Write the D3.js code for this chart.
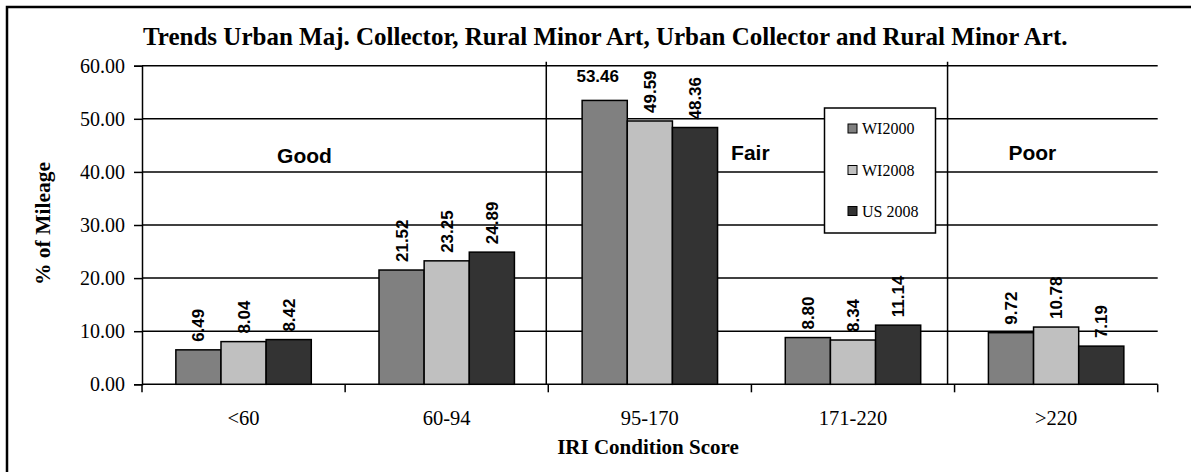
<!DOCTYPE html>
<html><head><meta charset="utf-8">
<script src="https://cdn.jsdelivr.net/npm/d3@7"></script>
<style>body{margin:0;background:#fff}</style>
</head><body><svg id="c" width="1191" height="472"></svg>
<script>
const categories = ["<60", "60-94", "95-170", "171-220", ">220"];
const seriesNames = ["WI2000", "WI2008", "US 2008"];
const wi2000 = [6.49, 21.52, 53.46, 8.80, 9.72];
const wi2008 = [8.04, 23.25, 49.59, 8.34, 10.78];
const us2008 = [8.42, 24.89, 48.36, 11.14, 7.19];
const yTicks = [0, 10, 20, 30, 40, 50, 60];
const zoneLabels = ["Good", "Fair", "Poor"];
const titleText = "Trends Urban Maj. Collector, Rural Minor Art, Urban Collector and Rural Minor Art.";
const xTitle = "IRI Condition Score";
const yTitle = "% of Mileage";

const colors = ["#808080", "#c0c0c0", "#333333"];
const serif = "'Liberation Serif','Times New Roman',serif";
const sans = "'Liberation Sans',Arial,sans-serif";

const svg = d3.select("#c");
const L = 142, R = 1157.7, T = 65.7, B = 384.3;

const x = d3.scaleBand().domain(categories).range([L, R]).padding(0);
const xs = d3.scaleBand().domain(seriesNames).range([0, x.bandwidth()]).paddingInner(0).paddingOuter(0.75);
const y = d3.scaleLinear().domain([0, 60]).range([B, T]);

// outer border
svg.append("rect").attr("x", 7).attr("y", 7).attr("width", 1200).attr("height", 480)
  .attr("fill", "none").attr("stroke", "#000").attr("stroke-width", 2.5);

// gridlines
svg.append("g").selectAll("line").data(yTicks.filter(d => d > 0)).join("line")
  .attr("x1", L).attr("x2", R).attr("y1", d => y(d)).attr("y2", d => y(d))
  .attr("stroke", "#000").attr("stroke-width", 1.5);

// zone separators
const sepX = [x(categories[2]) - 2, x(categories[4]) - 7];
svg.append("g").selectAll("line").data(sepX).join("line")
  .attr("x1", d => d).attr("x2", d => d).attr("y1", T - 4).attr("y2", B)
  .attr("stroke", "#000").attr("stroke-width", 1.5);

// y axis
const yAxis = svg.append("g").attr("transform", `translate(${L},0)`)
  .call(d3.axisLeft(y).tickValues(yTicks).tickFormat(d3.format(".2f")).tickSize(8).tickPadding(9));
yAxis.select(".domain").attr("stroke-width", 1.5);
yAxis.selectAll(".tick line").attr("stroke-width", 1.5);
yAxis.selectAll("text").attr("font-family", serif).attr("font-size", 20).attr("fill", "#000");

// x axis
const boundaries = categories.map(c => x(c)).concat([R]);
const xAxisG = svg.append("g");
xAxisG.append("line").attr("x1", L).attr("x2", R).attr("y1", B).attr("y2", B)
  .attr("stroke", "#000").attr("stroke-width", 1.5);
xAxisG.selectAll("line.t").data(boundaries).join("line").attr("class", "t")
  .attr("x1", d => d).attr("x2", d => d).attr("y1", B).attr("y2", B + 8)
  .attr("stroke", "#000").attr("stroke-width", 1.5);
xAxisG.selectAll("text").data(categories).join("text")
  .attr("x", d => x(d) + x.bandwidth() / 2).attr("y", 425)
  .attr("text-anchor", "middle").attr("font-family", serif).attr("font-size", 20.5)
  .text(d => d);

// bars
const seriesData = [wi2000, wi2008, us2008];
const groups = svg.append("g").selectAll("g").data(seriesData).join("g")
  .attr("fill", (d, i) => colors[i]);
groups.each(function (vals, si) {
  const g = d3.select(this);
  g.selectAll("rect").data(vals).join("rect")
    .attr("x", (v, ci) => x(categories[ci]) + xs(seriesNames[si]))
    .attr("y", v => y(v))
    .attr("width", xs.bandwidth())
    .attr("height", v => B - y(v))
    .attr("stroke", "#000").attr("stroke-width", 1.5);
});

// value labels
const labelG = svg.append("g");
seriesData.forEach((vals, si) => {
  vals.forEach((v, ci) => {
    const cx = x(categories[ci]) + xs(seriesNames[si]) + xs.bandwidth() / 2;
    const top = y(v);
    const txt = v.toFixed(2);
    if (top - 8 - 46 < T) {
      labelG.append("text").attr("x", cx - 7).attr("y", top - 18)
        .attr("text-anchor", "middle").attr("font-family", sans).attr("font-weight", "bold")
        .attr("font-size", 17).text(txt);
    } else {
      labelG.append("text").attr("transform", `translate(${cx + 6},${top - 8}) rotate(-90)`)
        .attr("text-anchor", "start").attr("font-family", sans).attr("font-weight", "bold")
        .attr("font-size", 17).text(txt);
    }
  });
});

// zone labels
const zonePos = [
  [x(categories[0]) + x.bandwidth() * 0.665, 163],
  [x(categories[2]) + x.bandwidth() * 0.9, 160],
  [x(categories[4]) + x.bandwidth() * 0.265, 160]
];
svg.append("g").selectAll("text").data(zoneLabels).join("text")
  .attr("x", (d, i) => zonePos[i][0]).attr("y", (d, i) => zonePos[i][1])
  .attr("font-family", sans).attr("font-weight", "bold").attr("font-size", 21)
  .text(d => d);

// legend
const lg = svg.append("g");
lg.append("rect").attr("x", 824.5).attr("y", 108).attr("width", 111).attr("height", 125)
  .attr("fill", "#fff").attr("stroke", "#000").attr("stroke-width", 1.5);
const legY = [128.5, 170, 211];
seriesNames.forEach((n, i) => {
  lg.append("rect").attr("x", 848).attr("y", legY[i] - 4.5).attr("width", 9).attr("height", 9)
    .attr("fill", colors[i]).attr("stroke", "#000").attr("stroke-width", 1);
  lg.append("text").attr("x", 862).attr("y", legY[i] + 5.5).attr("font-family", serif)
    .attr("font-size", 16).text(n);
});

// titles
svg.append("text").attr("x", 143).attr("y", 45).attr("font-family", serif).attr("font-weight", "bold")
  .attr("font-size", 25).text(titleText);
svg.append("text").attr("x", 648).attr("y", 454).attr("text-anchor", "middle").attr("font-family", serif)
  .attr("font-weight", "bold").attr("font-size", 21).text(xTitle);
svg.append("text").attr("transform", "translate(50,223.5) rotate(-90)").attr("text-anchor", "middle")
  .attr("font-family", serif).attr("font-weight", "bold").attr("font-size", 21.5).text(yTitle);
</script></body></html>
